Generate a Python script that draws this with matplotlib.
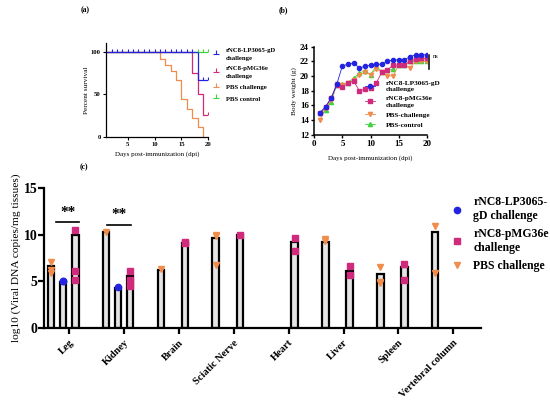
import numpy as np
import matplotlib
matplotlib.use("Agg")
import matplotlib.pyplot as plt
from matplotlib.lines import Line2D
from matplotlib.path import Path

plt.rcParams['font.family'] = ['Liberation Serif', 'DejaVu Serif']
plt.rcParams['font.weight'] = 'bold'

C_BLUE = '#2424e0'
C_PINK = '#d02a7c'
C_ORANGE = '#f08c4c'
C_GREEN = '#3fd43f'

# (a) survival
lp_t = [1, 18, 20]
lp_s = [100, 66.7, 66.7]
pmg_t = [1, 17, 18, 19, 20]
pmg_s = [100, 75, 50, 25, 25]
pbs_t = [1, 11, 12, 13, 14, 15, 16, 17, 18, 19]
pbs_s = [100, 92, 85, 77, 67, 44, 33, 22, 11, 0]
ctrl_t = [1, 20]
ctrl_s = [100, 100]
lp_cens_t = list(range(2, 18)) + [19, 20]
lp_cens_s = [100] * 16 + [66.7, 66.7]
ctrl_cens_t = [18, 19, 20]
ctrl_cens_s = [100, 100, 100]
pmg_cens_t = [20]
pmg_cens_s = [25]

# (b) body weight
days = np.arange(1, 21)
bw_lp = [15.0, 15.8, 17.0, 18.9, 21.4, 21.6, 21.8, 21.1, 21.3, 21.5,
         21.6, 21.6, 22.0, 22.2, 22.2, 22.2, 22.6, 22.9, 22.9, 22.9]
bw_pmg = [15.0, 15.8, 17.0, 18.8, 18.5, 19.0, 19.3, 18.0, 18.2, 18.3,
          19.0, 20.5, 20.8, 21.5, 21.5, 21.5, 22.0, 22.3, 22.4, 22.4]
bw_pbs = [14.0, 15.6, 16.7, 18.9, 18.8, 19.1, 19.4, 20.1, 20.5, 20.2,
          20.9, 20.6, 20.0, 20.0, 21.5, 21.5, 21.1, 22.0, 22.0, 22.0]
bw_ctrl = [15.0, 15.4, 16.5, 18.8, 18.9, 19.1, 19.7, 20.4, 20.7, 20.2,
           21.3, 20.6, 20.8, 20.9, 21.5, 21.5, 22.0, 22.0, 22.0, 22.0]

# (c) viral load
tissues = ['Leg', 'Kidney', 'Brain', 'Sciatic Nerve', 'Heart', 'Liver', 'Spleen', 'Vertebral column']
pbs_bar = [6.6, 10.3, 6.2, 9.6, np.nan, 9.2, 5.8, 10.3]
lp_bar = [4.9, 4.3, np.nan, np.nan, np.nan, np.nan, np.nan, np.nan]
pmg_bar = [10.0, 5.6, 9.1, 9.9, 9.2, 6.1, 6.5, np.nan]
pbs_pts = [[7.1, 6.2, 5.9], [10.3], [6.3], [10.0, 9.8, 6.8], [], [9.5, 9.35], [6.5, 4.9, 4.8], [10.9, 5.9]]
lp_pts = [[5.05, 5.0], [4.4], [], [], [], [], [], []]
pmg_pts = [[10.5, 6.15, 5.2], [6.1, 5.1, 4.5], [9.2, 9.1], [10.0], [9.6, 8.25], [6.6, 5.7], [6.9, 5.2], []]

up_tick = Path([(0, 0), (0, 1)])
perp = Path([(-1, 0), (1, 0), (0, 0), (0, 1.2)],
            [Path.MOVETO, Path.LINETO, Path.MOVETO, Path.LINETO])

fig = plt.figure(figsize=(5.5, 4.09), dpi=100)

# ---------- (a)
axa = fig.add_axes([0.1932, 0.6658, 0.1855, 0.228])
for t, s, c in [(ctrl_t, ctrl_s, C_GREEN), (pbs_t, pbs_s, C_ORANGE),
                (pmg_t, pmg_s, C_PINK), (lp_t, lp_s, C_BLUE)]:
    axa.step(t, s, where='post', color=c, lw=0.9)
axa.plot(ctrl_cens_t, ctrl_cens_s, ls='none', marker=up_tick, ms=5, mew=0.8, color=C_GREEN)
axa.plot(pmg_cens_t, pmg_cens_s, ls='none', marker=up_tick, ms=5, mew=0.8, color=C_PINK)
axa.plot(lp_cens_t, lp_cens_s, ls='none', marker=up_tick, ms=5, mew=0.8, color=C_BLUE)
axa.set_xlim(1, 20)
axa.set_ylim(0, 110)
axa.set_xticks([5, 10, 15, 20])
axa.set_yticks([0, 50, 100])
axa.tick_params(labelsize=4.8, length=2, width=0.8, pad=2)
for sp in ['top', 'right']:
    axa.spines[sp].set_visible(False)
for sp in ['left', 'bottom']:
    axa.spines[sp].set_linewidth(0.9)
axa.set_xlabel('Days post-immunization (dpi)', fontsize=5, labelpad=3)
axa.set_ylabel('Percent survival', fontsize=5.2, labelpad=1)
ha = [Line2D([], [], ls='none', marker=perp, ms=6, mew=0.8, color=c)
      for c in [C_BLUE, C_PINK, C_ORANGE, C_GREEN]]
lega = axa.legend(ha, ['rNC8-LP3065-gD\nchallenge', 'rNC8-pMG36e\nchallenge', 'PBS challenge', 'PBS control'],
                  loc='upper left', bbox_to_anchor=(0.385, 0.883), bbox_transform=fig.transFigure,
                  frameon=False, fontsize=4.8, handlelength=1.2, handletextpad=0.9,
                  labelspacing=0.85, borderaxespad=0, borderpad=0)
for t in lega.get_texts():
    t.set_linespacing(1.7)
fig.text(0.155, 0.975, '(a)', fontsize=5.5, ha='center', va='center')

# ---------- (b)
axb = fig.add_axes([0.5715, 0.6707, 0.2044, 0.2152])
axb.plot(days, bw_ctrl, color=C_GREEN, marker='^', ms=3, lw=0.6, label='PBS-control')
axb.plot(days, bw_pbs, color=C_ORANGE, marker='v', ms=3, lw=0.6, label='PBS-challenge')
axb.plot(days, bw_pmg, color=C_PINK, marker='s', ms=2.8, lw=0.6, label='rNC8-pMG36e\nchallenge')
axb.plot(days, bw_lp, color=C_BLUE, marker='o', ms=3, lw=0.6, label='rNC8-LP3065-gD\nchallenge')
axb.set_xlim(0, 20)
axb.set_ylim(12, 24)
axb.set_xticks([0, 5, 10, 15, 20])
axb.set_yticks([12, 14, 16, 18, 20, 22, 24])
axb.tick_params(labelsize=6.5, length=2.5, width=1, pad=1.5)
for sp in ['top', 'right']:
    axb.spines[sp].set_visible(False)
for sp in ['left', 'bottom']:
    axb.spines[sp].set_linewidth(1.1)
axb.set_xlabel('Days post-immunization (dpi)', fontsize=5, labelpad=5)
axb.set_ylabel('Body weight (g)', fontsize=5.2, labelpad=2)
axb.plot([20.45, 20.45], [20.9, 22.9], color='black', lw=1.1, clip_on=False)
axb.text(21.1, 22.6, 'ns', fontsize=4.5, fontweight='normal', va='center', clip_on=False)
hb, lb = axb.get_legend_handles_labels()
legb = axb.legend(hb[::-1], lb[::-1], loc='upper left', bbox_to_anchor=(0.663, 0.803),
                  bbox_transform=fig.transFigure, frameon=False, fontsize=5.2,
                  handlelength=1.4, handletextpad=1.5, labelspacing=0.55,
                  borderaxespad=0, borderpad=0)
for t in legb.get_texts():
    t.set_linespacing(1.4)
fig.text(0.515, 0.975, '(b)', fontsize=5.5, ha='center', va='center')

# ---------- (c)
axc = fig.add_axes([0.0805, 0.1973, 0.7935, 0.3438])
x = np.arange(len(tissues))
offs = [-0.33, -0.11, 0.11]
bw = 0.12
for off, vals in zip(offs, [pbs_bar, lp_bar, pmg_bar]):
    axc.bar(x + off, vals, width=bw, color='#e4e4e4', edgecolor='black', linewidth=1.6, zorder=2)
for off, pts, c, m in zip(offs, [pbs_pts, lp_pts, pmg_pts],
                          [C_ORANGE, C_BLUE, C_PINK], ['v', 'o', 's']):
    for i, p in enumerate(pts):
        if p:
            axc.plot([x[i] + off] * len(p), p, ls='none', marker=m, ms=4.5, color=c, zorder=3)
axc.set_xlim(-0.455, 7.5)
axc.set_ylim(0, 15)
axc.set_yticks([0, 5, 10, 15])
axc.set_xticks(x)
axc.set_xticklabels(tissues, rotation=45, ha='right', rotation_mode='anchor', fontsize=7.5)
axc.tick_params(axis='y', labelsize=10, length=4, width=1.6, pad=1)
axc.tick_params(axis='x', length=4, width=1.6, pad=3)
for sp in ['top', 'right']:
    axc.spines[sp].set_visible(False)
for sp in ['left', 'bottom']:
    axc.spines[sp].set_linewidth(1.6)
axc.set_ylabel('log10 (Viral DNA copies/mg tissues)', fontsize=8.2, labelpad=2)
axc.plot([-0.24, 0.18], [11.3, 11.3], color='black', lw=1.2)
axc.text(-0.03, 11.7, '**', fontsize=11, ha='center', va='bottom')
axc.plot([0.69, 1.13], [11.0, 11.0], color='black', lw=1.2)
axc.text(0.9, 11.4, '**', fontsize=11, ha='center', va='bottom')
hc = [Line2D([], [], ls='none', marker=m, ms=4.5, color=c)
      for m, c in [('o', C_BLUE), ('s', C_PINK), ('v', C_ORANGE)]]
axc.legend(hc, ['rNC8-LP3065-\ngD challenge', 'rNC8-pMG36e\nchallenge', 'PBS challenge'],
           loc='upper left', bbox_to_anchor=(0.82, 0.52), bbox_transform=fig.transFigure,
           frameon=False, fontsize=8.5, handlelength=1.0, handletextpad=0.9,
           labelspacing=0.5, borderaxespad=0, borderpad=0)
fig.text(0.153, 0.592, '(c)', fontsize=5.5, ha='center', va='center')

fig.savefig('out.png', dpi=100)
